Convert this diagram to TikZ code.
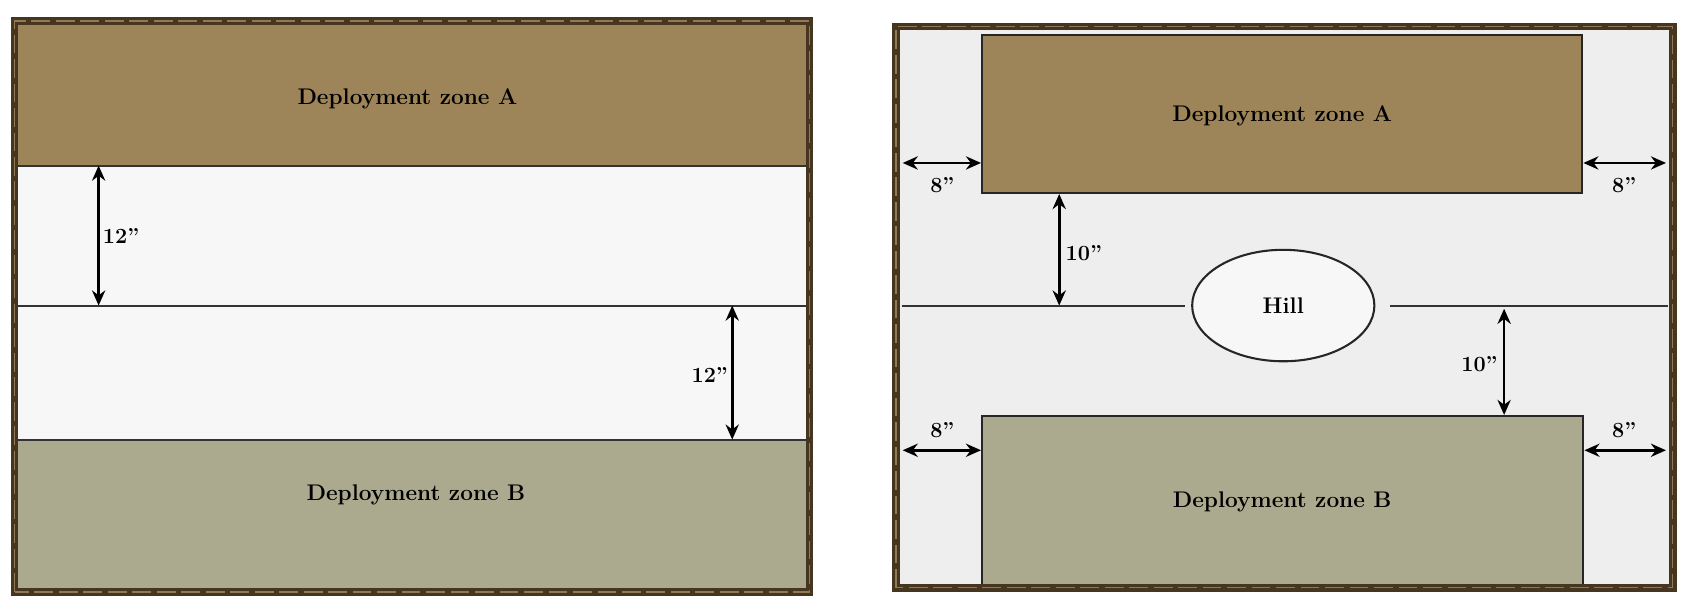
\documentclass[tikz,border=0pt]{standalone}
\usetikzlibrary{positioning,arrows.meta,shapes.geometric}

\definecolor{zonebrown}{HTML}{9E8559}
\definecolor{zonesage}{HTML}{ABA98E}
\definecolor{framebrown}{HTML}{46361F}
\definecolor{frametan}{HTML}{8E7A58}
\definecolor{boardgrey}{HTML}{EEEEEE}

\begin{document}
\begin{tikzpicture}[
    x=0.02cm, y=-0.02cm,
    boardbg/.style={
        rectangle,
        draw=none,
        inner sep=0pt
    },
    frame/.style={
        draw=framebrown,
        line width=4pt
    },
    framedash/.style={
        draw=frametan,
        line width=0.7pt,
        dash pattern=on 10pt off 3pt
    },
    zone/.style={
        rectangle,
        draw=black!85,
        line width=1.1pt,
        inner sep=0pt
    },
    edge/.style={
        draw=black!80,
        line width=1.1pt
    },
    dim/.style={
        {Stealth[length=8pt,width=7pt]}-{Stealth[length=8pt,width=7pt]},
        line width=1.4pt
    },
    zonetext/.style={
        font=\fontsize{12}{14}\selectfont\bfseries
    },
    dimtext/.style={
        font=\fontsize{11.5}{13}\selectfont\bfseries
    }
]

\useasboundingbox (0,0) rectangle (1568,558);

% left board
\node[boardbg, fill=white!97!black, minimum width=14.82cm, minimum height=10.64cm] (left) at (384.5,286) {};
\node[zone, draw=none, fill=zonebrown, minimum width=14.7cm, minimum height=2.62cm] (zoneA1) at (384.5,88) {};
\node[zone, draw=none, fill=zonesage, minimum width=14.7cm, minimum height=2.8cm] (zoneB1) at (384.5,481) {};
\node[zonetext] (textA1) at (380,92) {Deployment zone A};
\node[zonetext] (textB1) at (388,462) {Deployment zone B};

\coordinate (mid1w) at (17,285);
\coordinate (mid1e) at (752,285);
\draw[edge] (zoneA1.south west) -- (zoneA1.south east);
\draw[edge] (mid1w) -- (mid1e);
\draw[edge] (zoneB1.north west) -- (zoneB1.north east);

\coordinate (m1) at (92,285);
\coordinate (m4) at (683,285);
\draw[dim] (zoneA1.south -| m1) -- (m1);
\draw[dim] (m4) -- (m4 |- zoneB1.north);
\node[dimtext] (d1) at (113,220) {12''};
\node[dimtext] (d2) at (662,350) {12''};

\draw[frame] (left.south west) rectangle (left.north east);
\draw[framedash] (left.south west) rectangle (left.north east);

% right board
\node[boardbg, fill=boardgrey, minimum width=14.48cm, minimum height=10.46cm] (right) at (1198,286.5) {};
\node[zone, fill=zonebrown, minimum width=11.2cm, minimum height=2.94cm] (zoneA2) at (1196,106.5) {};
\node[zone, fill=zonesage, minimum width=11.22cm, minimum height=3.16cm] (zoneB2) at (1196.5,467) {};
\node[zonetext] (textA2) at (1196,108) {Deployment zone A};
\node[zonetext] (textB2) at (1196,468) {Deployment zone B};
\node[ellipse, draw=black!85, line width=1.1pt, fill=white!97!black, minimum width=3.4cm, minimum height=2.08cm, inner sep=0pt, font=\fontsize{12}{14}\selectfont\bfseries] (hill) at (1197,285) {Hill};

\coordinate (mid2w) at (841,285);
\coordinate (mid2e) at (1556,285);
\draw[edge, shorten >=3pt] (mid2w) -- (hill.west);
\draw[edge, shorten >=8pt] (mid2e) -- (hill.east);

\coordinate (e1) at (842,152);
\coordinate (e2) at (1554,152);
\coordinate (e3) at (842,420);
\coordinate (e4) at (1554,420);
\draw[dim] (e1) -- (e1 -| zoneA2.west);
\draw[dim] (zoneA2.east |- e2) -- (e2);
\draw[dim] (e3) -- (e3 -| zoneB2.west);
\draw[dim] (zoneB2.east |- e4) -- (e4);
\node[dimtext] (d3) at (879,173) {8''};
\node[dimtext] (d4) at (1515,173) {8''};
\node[dimtext] (d5) at (879,401) {8''};
\node[dimtext] (d6) at (1515,401) {8''};

\coordinate (m2) at (988,285);
\coordinate (m3) at (1403,288);
\draw[dim] (zoneA2.south -| m2) -- (m2);
\draw[dim] (m3) -- (m3 |- zoneB2.north);
\node[dimtext] (d7) at (1011,236) {10''};
\node[dimtext] (d8) at (1380,340) {10''};

\draw[frame] (right.south west) rectangle (right.north east);
\draw[framedash] (right.south west) rectangle (right.north east);

\end{tikzpicture}
\end{document}
